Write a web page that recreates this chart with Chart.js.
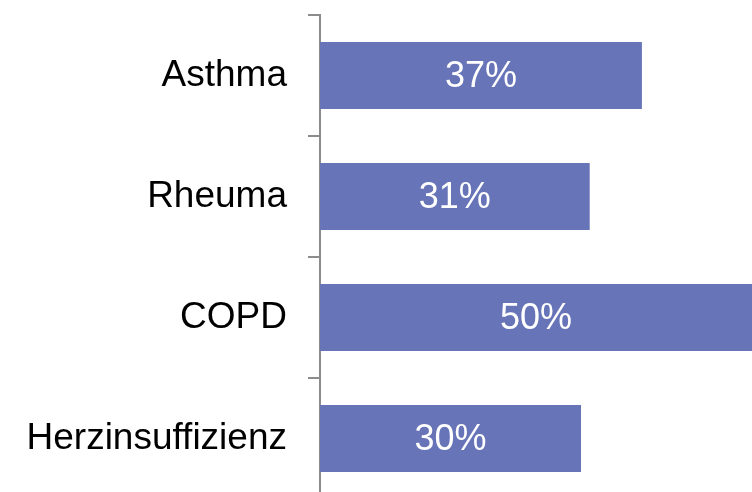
<!DOCTYPE html>
<html>
<head>
<meta charset="utf-8">
<script src="https://cdn.jsdelivr.net/npm/chart.js@4"></script>
<style>
  html, body { margin: 0; padding: 0; background: #fff; overflow: hidden; width: 752px; height: 492px; }
  #wrap { position: relative; width: 752px; height: 492px; overflow: hidden; }
  canvas { display: block; }
</style>
</head>
<body>
<div id="wrap"><canvas id="c" width="755" height="499" style="width:755px;height:499px"></canvas></div>
<script>
// Share of patients per condition (percent)
const categories = ['Asthma', 'Rheuma', 'COPD', 'Herzinsuffizienz'];
const values = [37, 31, 50, 30];
const valueLabels = ['37%', '31%', '50%', '30%'];

const FONT = '"Liberation Sans", Arial, Helvetica, sans-serif';

// Writes the percentage in the middle of every bar
const barValueLabels = {
  id: 'barValueLabels',
  afterDatasetsDraw(chart) {
    const ctx = chart.ctx;
    const meta = chart.getDatasetMeta(0);
    ctx.save();
    ctx.fillStyle = '#ffffff';
    ctx.font = '36px ' + FONT;
    ctx.textAlign = 'center';
    ctx.textBaseline = 'middle';
    meta.data.forEach((bar, i) => {
      const p = bar.getProps(['x', 'y', 'base'], true);
      const right = Math.min(p.x, 752);
      ctx.fillText(valueLabels[i], (p.base + right) / 2, p.y + 2);
    });
    ctx.restore();
  }
};

new Chart(document.getElementById('c'), {
  type: 'bar',
  data: {
    labels: categories,
    datasets: [{
      data: values,
      backgroundColor: '#6774b7',
      borderWidth: 0,
      barPercentage: 0.555,
      categoryPercentage: 1
    }]
  },
  options: {
    indexAxis: 'y',
    responsive: false,
    animation: false,
    layout: { padding: { top: 15, left: 0, right: 0, bottom: 0 } },
    plugins: { legend: { display: false }, tooltip: { enabled: false } },
    scales: {
      x: {
        display: false,
        min: 0,
        max: 50
      },
      y: {
        afterFit(scale) {
          scale.width = 320;
          scale.paddingTop = 0;
          scale.paddingBottom = 0;
        },
        grid: {
          offset: true,
          drawOnChartArea: false,
          drawTicks: true,
          tickLength: 12,
          color: '#8c8c8c',
          lineWidth: 2
        },
        border: { display: true, color: '#8c8c8c', width: 2 },
        ticks: {
          color: '#000000',
          padding: 21,
          font: { family: FONT, size: 37 }
        }
      }
    }
  },
  plugins: [barValueLabels]
});
</script>
</body>
</html>
